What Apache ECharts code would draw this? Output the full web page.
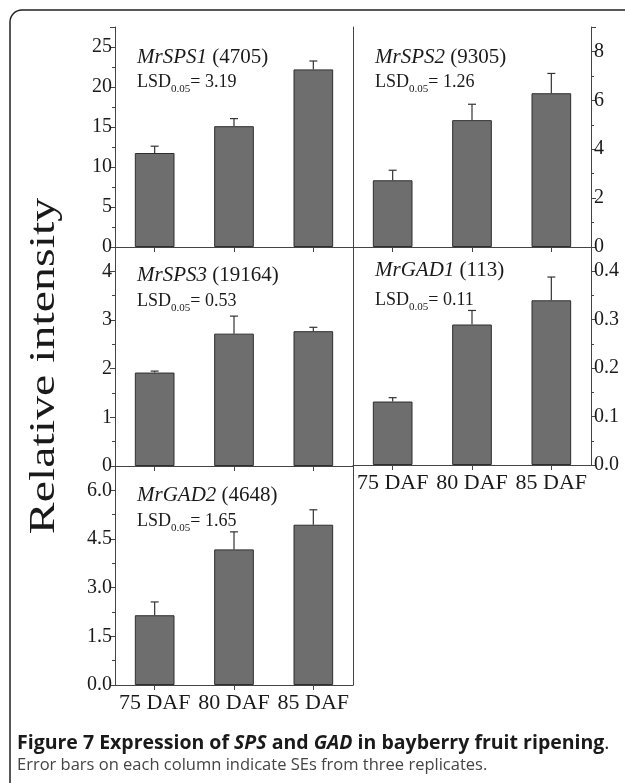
<!DOCTYPE html>
<html>
<head>
<meta charset="utf-8">
<script src="https://cdn.jsdelivr.net/npm/echarts@6/dist/echarts.min.js"></script>
<style>
html,body{margin:0;padding:0;background:#fff;}
#chart{width:625px;height:783px;}
</style>
</head>
<body>
<div id="chart"></div>
<script>
// ---- data ----
const categories = ['75 DAF', '80 DAF', '85 DAF'];
const sps1 = [11.75, 15.1, 22.2];
const sps1Err = [0.85, 0.95, 1.05];
const sps2 = [2.73, 5.19, 6.29];
const sps2Err = [0.41, 0.65, 0.81];
const sps3 = [1.92, 2.72, 2.77];
const sps3Err = [0.03, 0.36, 0.08];
const gad1 = [0.131, 0.29, 0.34];
const gad1Err = [0.008, 0.029, 0.048];
const gad2 = [2.15, 4.18, 4.94];
const gad2Err = [0.41, 0.54, 0.46];

const geneNames = ['MrSPS1', 'MrSPS2', 'MrSPS3', 'MrGAD1', 'MrGAD2'];
const geneIds = ['(4705)', '(9305)', '(19164)', '(113)', '(4648)'];
const lsdValues = ['3.19', '1.26', '0.53', '0.11', '1.65'];
const yMaxes = [27.5, 9, 4.5, 0.45, 6.75];
const yIntervals = [5, 2, 1, 0.1, 1.5];
const yDecimals = [0, 0, 0, 1, 1];

const values = [sps1, sps2, sps3, gad1, gad2];
const errors = [sps1Err, sps2Err, sps3Err, gad1Err, gad2Err];

// ---- layout ----
const grids = [
  {left: 115, top: 27, width: 238, height: 220},
  {left: 353, top: 27, width: 238, height: 220},
  {left: 115, top: 247, width: 238, height: 219},
  {left: 353, top: 247, width: 238, height: 218},
  {left: 115, top: 466, width: 238, height: 219}
];
const yPos = ['left', 'right', 'left', 'right', 'left'];
const showXLabel = [false, false, false, true, true];
const titlePos = [[137, 57, 82], [375, 57, 82], [137, 275, 301], [375, 270, 300], [137, 495, 521]];

const serif = '"Liberation Serif", "Times New Roman", serif';
const lineColor = '#444';

const xAxes = [], yAxes = [], series = [], graphics = [];

grids.forEach((g, i) => {
  // main x axis
  xAxes.push({
    type: 'category', gridIndex: i, data: categories, position: 'bottom',
    axisLine: {show: true, lineStyle: {color: lineColor, width: 1}},
    axisTick: {show: true, alignWithLabel: true, inside: false, length: 5, lineStyle: {color: lineColor}},
    axisLabel: {show: showXLabel[i], interval: 0, margin: 7, color: '#1a1a1a', fontFamily: serif, fontSize: 22},
    splitLine: {show: false}
  });
  // inner tick axis (ticks crossing the axis line)
  xAxes.push({
    type: 'category', gridIndex: i, data: categories, position: 'bottom',
    axisLine: {show: false},
    axisTick: {show: true, alignWithLabel: true, inside: true, length: 5, lineStyle: {color: lineColor}},
    axisLabel: {show: false},
    splitLine: {show: false}
  });
  const yi = yAxes.length;
  yAxes.push({
    type: 'value', gridIndex: i, position: yPos[i], min: 0, max: yMaxes[i], interval: yIntervals[i],
    axisLine: {show: true, lineStyle: {color: lineColor, width: 1}},
    axisTick: {show: true, inside: false, length: 5, lineStyle: {color: lineColor}},
    minorTick: {show: true, splitNumber: 2, length: 3, lineStyle: {color: lineColor}},
    axisLabel: {
      show: true, margin: 3, color: '#1a1a1a', fontFamily: serif, fontSize: 20,
      showMaxLabel: false,
      formatter: (v) => {
        const r = Math.round(v / yIntervals[i]);
        if (Math.abs(r * yIntervals[i] - v) > 1e-9) return '';
        return v.toFixed(yDecimals[i]);
      }
    },
    splitLine: {show: false}
  });
  if (yPos[i] === 'left') {
    yAxes.push({
      type: 'value', gridIndex: i, position: 'right', min: 0, max: yMaxes[i],
      axisLine: {show: true, lineStyle: {color: lineColor, width: 1}},
      axisTick: {show: false}, axisLabel: {show: false}, splitLine: {show: false}
    });
  }
  series.push({
    type: 'bar', xAxisIndex: 2 * i, yAxisIndex: yi, data: values[i], barWidth: '50%',
    itemStyle: {color: '#6e6e6e', borderColor: '#2e2e2e', borderWidth: 1},
    silent: true, animation: false
  });
  series.push({
    type: 'custom', xAxisIndex: 2 * i, yAxisIndex: yi,
    data: values[i].map((v, k) => [k, v, errors[i][k]]),
    encode: {x: 0, y: 1},
    renderItem: (params, api) => {
      const x = api.value(0), v = api.value(1), e = api.value(2);
      const p0 = api.coord([x, v]);
      const p1 = api.coord([x, v + e]);
      const st = {stroke: '#333', lineWidth: 1.2};
      return {
        type: 'group',
        children: [
          {type: 'line', shape: {x1: p0[0], y1: p0[1], x2: p1[0], y2: p1[1]}, style: st},
          {type: 'line', shape: {x1: p1[0] - 4, y1: p1[1], x2: p1[0] + 4, y2: p1[1]}, style: st}
        ]
      };
    },
    z: 3, silent: true, animation: false
  });
  const tp = titlePos[i];
  graphics.push({
    type: 'text', x: tp[0], y: tp[1],
    style: {
      text: '{i|' + geneNames[i] + '}{n| ' + geneIds[i] + '}',
      verticalAlign: 'middle',
      rich: {
        i: {fontFamily: serif, fontStyle: 'italic', fontSize: 21, fill: '#1a1a1a'},
        n: {fontFamily: serif, fontSize: 21, fill: '#1a1a1a'}
      }
    }
  });
  graphics.push({
    type: 'text', x: tp[0], y: tp[2],
    style: {
      text: '{m|LSD}{s|0.05}{m|= ' + lsdValues[i] + '}',
      verticalAlign: 'middle',
      rich: {
        m: {fontFamily: serif, fontSize: 18, fill: '#1a1a1a', lineHeight: 22},
        s: {fontFamily: serif, fontSize: 11, fill: '#1a1a1a', padding: [14, 0, 0, 0], lineHeight: 22}
      }
    }
  });
});

// frame, axis title, caption
graphics.push({
  type: 'rect', shape: {x: 10, y: 10, width: 660, height: 820, r: 12},
  style: {fill: 'none', stroke: '#222', lineWidth: 1.5}, z: -1
});
graphics.push({
  type: 'text', x: 45, y: 366, rotation: Math.PI / 2, scaleX: 1.33, scaleY: 1,
  style: {text: 'Relative intensity', font: '36px ' + serif, fill: '#1a1a1a', align: 'center', verticalAlign: 'middle'}
});
graphics.push({
  type: 'text', x: 17, y: 743,
  style: {
    text: '{b|Figure 7 Expression of }{bi|SPS}{b| and }{bi|GAD}{b| in bayberry fruit ripening}{r|.}',
    verticalAlign: 'middle',
    rich: {
      b: {fontFamily: '"Open Sans", sans-serif', fontWeight: 'bold', fontSize: 19.5, fill: '#1a1a1a'},
      bi: {fontFamily: '"Open Sans", sans-serif', fontWeight: 'bold', fontStyle: 'italic', fontSize: 19.5, fill: '#1a1a1a'},
      r: {fontFamily: '"Open Sans", sans-serif', fontSize: 19.5, fill: '#1a1a1a'}
    }
  }
});
graphics.push({
  type: 'text', x: 17, y: 765,
  style: {
    text: 'Error bars on each column indicate SEs from three replicates.',
    font: '16.5px "Open Sans", sans-serif', fill: '#444', verticalAlign: 'middle'
  }
});

const chart = echarts.init(document.getElementById('chart'), null, {renderer: 'canvas'});
chart.setOption({
  animation: false,
  backgroundColor: '#fff',
  grid: grids.map(g => Object.assign({containLabel: false}, g)),
  xAxis: xAxes,
  yAxis: yAxes,
  series: series,
  graphic: graphics
});
</script>
</body>
</html>
